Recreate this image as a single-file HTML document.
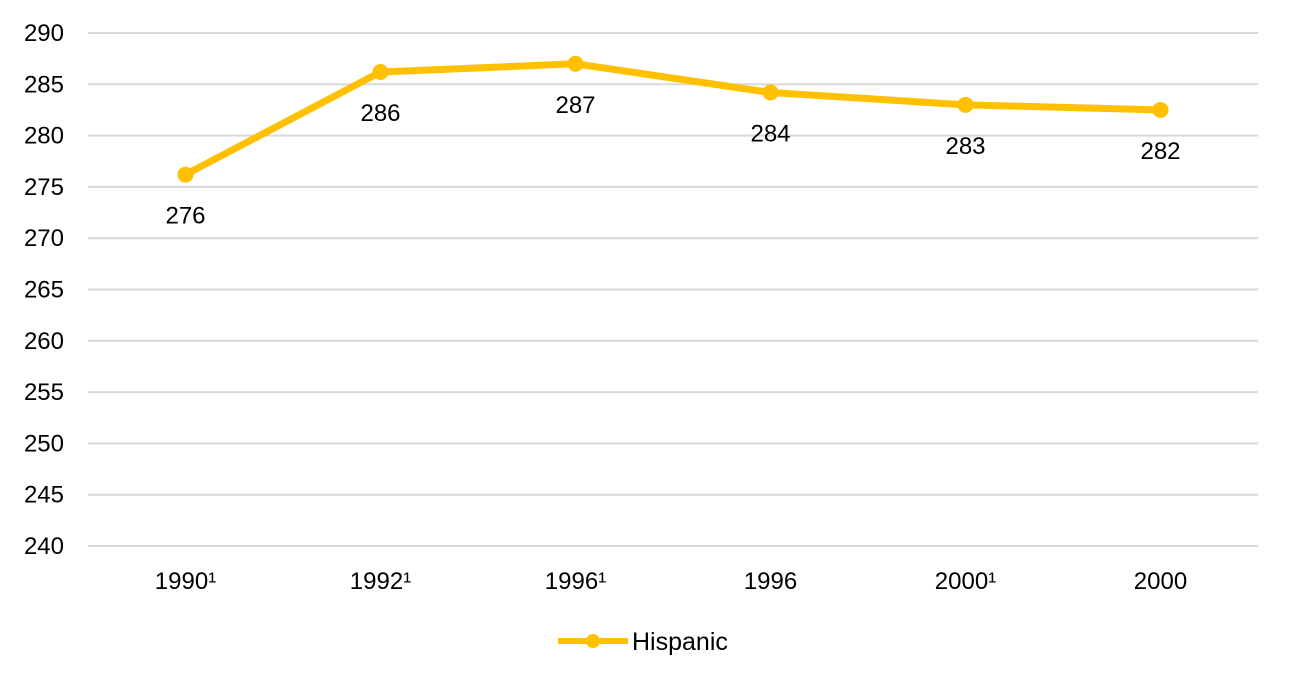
<!DOCTYPE html>
<html><head><meta charset="utf-8"><style>
body{margin:0;background:#fff;}
svg text{font-family:"Liberation Sans",Arial,sans-serif;fill:#000;}
</style></head><body>
<svg id="chart" width="1293" height="685" xmlns="http://www.w3.org/2000/svg">
<g id="grid"></g>
<g id="yaxis"></g>
<g id="xaxis"></g>
<g id="series"></g>
<g>
<line x1="558" y1="641" x2="628" y2="641" stroke="#FFC000" stroke-width="6"/>
<circle cx="593" cy="641" r="7" fill="#FFC000"/>
<text x="632" y="650" font-size="25">Hispanic</text>
</g>
</svg>
<script>
const categories=["1990¹","1992¹","1996¹","1996","2000¹","2000"];
const values=[276.2,286.2,287.0,284.2,283.0,282.5];
const valueLabels=["276","286","287","284","283","282"];
const yTicks=[240,245,250,255,260,265,270,275,280,285,290];
const NS="http://www.w3.org/2000/svg";
const plotLeft=88,plotRight=1258,plotTop=33,plotBottom=546,yMin=240,yMax=290;
const yScale=v=>plotBottom-(v-yMin)/(yMax-yMin)*(plotBottom-plotTop);
const step=(plotRight-plotLeft)/categories.length;
const xScale=i=>plotLeft+step*(i+0.5);
function mk(tag,attrs,parent){const e=document.createElementNS(NS,tag);for(const k in attrs)e.setAttribute(k,attrs[k]);parent.appendChild(e);return e;}
const grid=document.getElementById('grid'),ya=document.getElementById('yaxis'),xa=document.getElementById('xaxis'),ser=document.getElementById('series');
yTicks.forEach(t=>{
 const l=mk('line',{x1:plotLeft,x2:plotRight,y1:yScale(t),y2:yScale(t),stroke:'#d9d9d9','stroke-width':2},grid);
 
 
 const tx=mk('text',{x:64,y:yScale(t)+8,'text-anchor':'end','font-size':24},ya);
 tx.textContent=t;
 
 
});
categories.forEach((c,i)=>{
 const tx=mk('text',{x:xScale(i),y:589,'text-anchor':'middle','font-size':24},xa);
 tx.textContent=c;
 
 
});
const pl=mk('polyline',{points:values.map((v,i)=>xScale(i)+','+yScale(v)).join(' '),fill:'none',stroke:'#FFC000','stroke-width':7,'stroke-linejoin':'round'},ser);


values.forEach((v,i)=>{
 const c=mk('circle',{cx:xScale(i),cy:yScale(v),r:8,fill:'#FFC000'},ser);
 
 
 const t=mk('text',{x:xScale(i),y:yScale(v)+49,'text-anchor':'middle','font-size':24},ser);
 t.textContent=valueLabels[i];
 
 
});
</script>
</body></html>
